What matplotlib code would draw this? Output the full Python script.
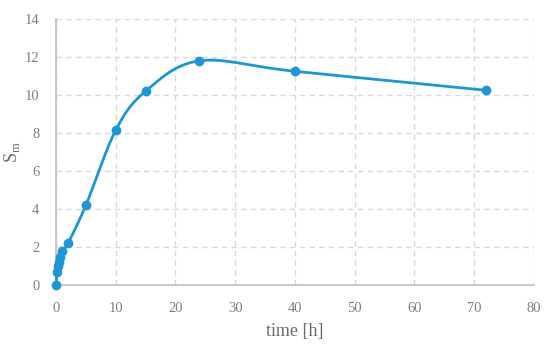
import numpy as np
import matplotlib.pyplot as plt

# data
time_h = [0, 0.17, 0.33, 0.5, 0.75, 1, 2, 5, 10, 15, 24, 40, 72]
s_m = [0, 0.7, 1.0, 1.2, 1.5, 1.8, 2.2, 4.2, 8.15, 10.2, 11.8, 11.25, 10.25]

x_ticks = [0, 10, 20, 30, 40, 50, 60, 70, 80]
y_ticks = [0, 2, 4, 6, 8, 10, 12, 14]

line_color = "#1f96d4"
grid_color = "#d9d9d9"
text_color = "#7f7f7f"

plt.rcParams["font.family"] = ["Liberation Serif", "DejaVu Serif"]
plt.rcParams["mathtext.fontset"] = "custom"
plt.rcParams["mathtext.rm"] = "Liberation Serif"


def smooth_line(xs, ys, sx, sy, n=30):
    # excel-like smoothed line: bezier segments with 1/6 tangents, in screen scale
    px = np.array(xs, float) * sx
    py = np.array(ys, float) * sy
    out_x, out_y = [], []
    t = np.linspace(0, 1, n)
    for i in range(len(px) - 1):
        i0 = max(i - 1, 0)
        i3 = min(i + 2, len(px) - 1)
        p0 = np.array([px[i], py[i]])
        p3 = np.array([px[i + 1], py[i + 1]])
        c1 = p0 + (np.array([px[i + 1], py[i + 1]]) - np.array([px[i0], py[i0]])) / 6
        c2 = p3 - (np.array([px[i3], py[i3]]) - np.array([px[i], py[i]])) / 6
        b = ((1 - t) ** 3)[:, None] * p0 + (3 * (1 - t) ** 2 * t)[:, None] * c1 \
            + (3 * (1 - t) * t ** 2)[:, None] * c2 + (t ** 3)[:, None] * p3
        out_x.extend(b[:, 0] / sx)
        out_y.extend(b[:, 1] / sy)
    return out_x, out_y


fig = plt.figure(figsize=(5.5, 3.52), dpi=100)
ax = fig.add_axes([0.1018, 0.19, 0.869, 0.756])

cx, cy = smooth_line(time_h, s_m, 478 / 80, 266 / 14)
ax.plot(cx, cy, color=line_color, linewidth=2, zorder=3, clip_on=False)
ax.plot(time_h, s_m, "o", color=line_color, markersize=6, zorder=4, clip_on=False)

ax.set_xlim(0, 80)
ax.set_ylim(0, 14)
ax.set_xticks(x_ticks)
ax.set_yticks(y_ticks)
ax.grid(True, color=grid_color, linestyle=(0, (4, 3)), linewidth=1)
ax.set_axisbelow(True)
for side in ["top", "right"]:
    ax.spines[side].set_visible(False)
for side in ["left", "bottom"]:
    ax.spines[side].set_color("#bfbfbf")
    ax.spines[side].set_linewidth(1.2)
ax.tick_params(length=0, labelsize=10.5, labelcolor=text_color, pad=12)

ax.set_xlabel("time [h]", fontsize=13, color="#6b6b6b", labelpad=6)
ax.set_ylabel(r"S$_\mathrm{m}$", fontsize=13, color="#6b6b6b")
ax.yaxis.set_label_coords(-0.072, 0.5)

fig.savefig("out.png", dpi=100)
